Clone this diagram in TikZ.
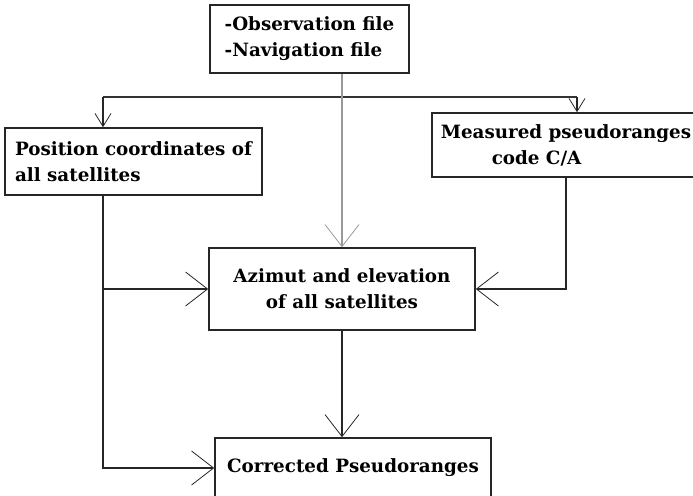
\documentclass[tikz,border=0pt]{standalone}
\usepackage{fontspec}
\setmainfont{DejaVu Serif}
\usetikzlibrary{arrows.meta}

\begin{document}
\begin{tikzpicture}[x=1pt,y=-1pt,
    box/.style={draw=black!85, line width=1.6pt, fill=white, inner sep=0pt,
      font=\bfseries\fontsize{18.3}{26}\selectfont},
    link/.style={draw=black!85, line width=1.5pt},
    bigtip/.style={-{Straight Barb[length=22pt,width=34pt,line width=0.8pt]}},
    smalltip/.style={-{Straight Barb[length=13pt,width=16pt,line width=0.8pt]}}]
    \useasboundingbox (0,0) rectangle (693,495);
    \clip (0,0) rectangle (693,495);
    % boxes
    \node[box, minimum width=199pt, minimum height=68pt, align=left]
      (obs) at (309.5,39) {-Observation file\\-Navigation file};
    \node[box, minimum width=257pt, minimum height=67pt, align=left]
      (pos) at (133.5,161.5) {Position coordinates of\\all satellites};
    \node[box, minimum width=268pt, minimum height=64pt, align=left]
      (meas) at (566,145) {Measured pseudoranges\\\hspace*{51pt}code C/A};
    \node[box, minimum width=266pt, minimum height=82pt, align=center]
      (azi) at (342,289) {Azimut and elevation\\of all satellites};
    \node[box, minimum width=276pt, minimum height=60pt]
      (corr) at (353,468) {Corrected Pseudoranges};
    % branch line
    \coordinate (barL) at (103,97);
    \coordinate (barR) at (577,97);
    \draw[link, line width=2.6pt, black!80] (barL) -- (barR);
    \draw[link, smalltip] (barL) -- (barL |- pos.north);
    \draw[link, smalltip] (barR) -- (barR |- meas.north);
    \draw[link, bigtip, draw=black!40, line width=2.4pt] (azi.north |- obs.south) -- (azi.north);
    % to azimut and corrected
    \draw[link, bigtip] (barL |- pos.south) |- (corr.west);
    \draw[link, bigtip] (azi.west -| barL) -- (azi.west);
    \draw[link, bigtip] (meas.south) |- (azi.east);
    \draw[link, bigtip] (azi.south) -- (azi.south |- corr.north);
\end{tikzpicture}
\end{document}
